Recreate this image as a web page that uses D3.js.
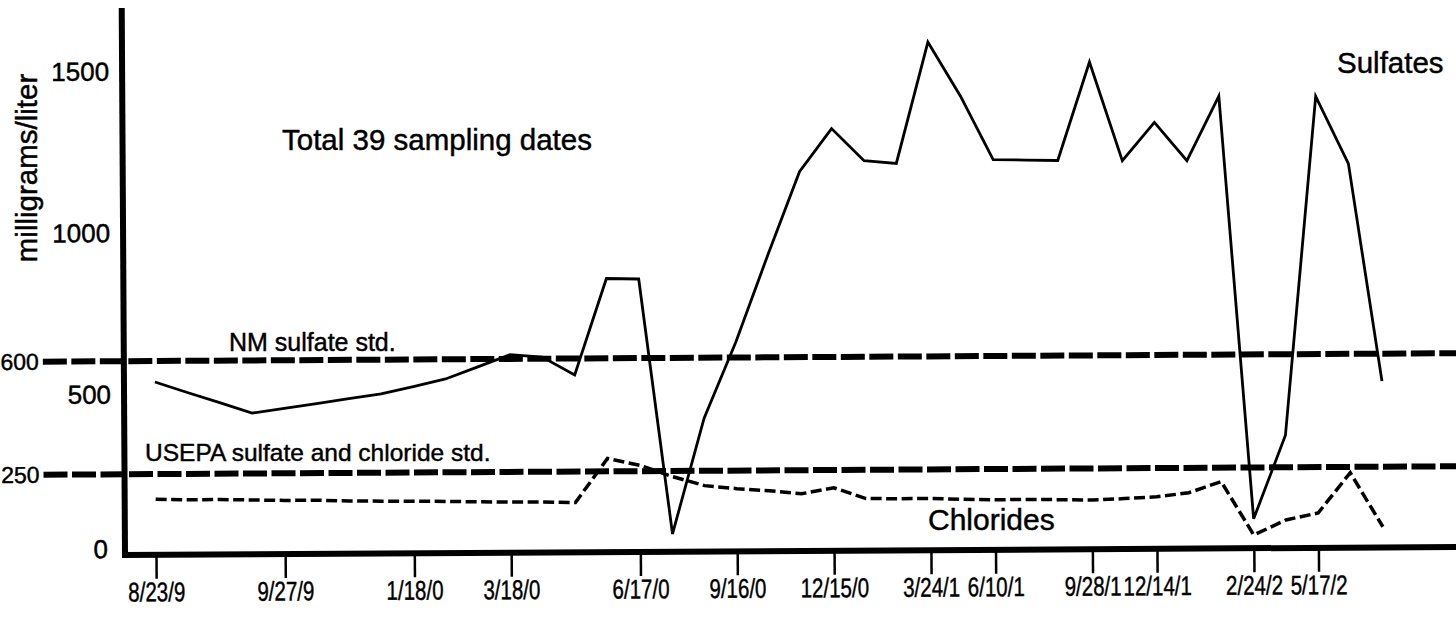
<!DOCTYPE html>
<html>
<head>
<meta charset="utf-8">
<script src="https://cdn.jsdelivr.net/npm/d3@7"></script>
<style>
  html, body { margin: 0; padding: 0; background: #fff; }
  svg { display: block; }
  text { font-family: "Liberation Sans", Arial, Helvetica, sans-serif; fill: #000; stroke: #000; stroke-width: 0.45px; }
</style>
</head>
<body>
<svg id="chart" width="1456" height="621"></svg>
<script>
// ---- data (39 sampling dates, index 0..38) ----
const sampleIndex = d3.range(39);
const sulfates = [535, 502, 470, 437, 451, 465, 480, 494, 516, 539,
                  576, 613, 605, 549, 847, 845, 55, 413, 649, 916,
                  1174, 1307, 1207, 1198, 1573, 1405, 1208, 1206, 1204, 1508,
                  1202, 1320, 1201, 1400, 91, 349, 1398, 1189, 515];
const chlorides = [172, 170, 170, 168, 166, 166, 163, 162, 161, 160,
                   158, 157, 156, 154, 290, 268, 233, 204, 194, 187,
                   177, 195, 161, 160, 160, 157, 155, 155, 154, 152,
                   156, 161, 173, 207, 41, 87, 108, 232, 64];
const tickIndex = [0, 4, 8, 11, 15, 18, 21, 24, 26, 29, 31, 34, 36];
const tickLabels = ["8/23/9", "9/27/9", "1/18/0", "3/18/0", "6/17/0", "9/16/0",
                    "12/15/0", "3/24/1", "6/10/1", "9/28/1", "12/14/1", "2/24/2", "5/17/2"];
const yTicksInner = [1500, 1000, 500, 0];
const stdValues = [600, 250];
const stdNames = ["NM sulfate std.", "USEPA sulfate and chloride std."];
const yTitle = "milligrams/liter";
const note = "Total 39 sampling dates";
const seriesNames = ["Sulfates", "Chlorides"];

// ---- layout ----
const svg = d3.select("#chart");
const axisX = 125, axisY = 555;
const x = d3.scaleLinear().domain([0, 38]).range([156, 1383]);
const y = d3.scaleLinear().domain([0, 1700]).range([axisY, axisY - 0.323 * 1700]);

// whole scanned plot is slightly tilted
const g = svg.append("g").attr("transform", `rotate(-0.344, ${axisX}, ${axisY})`);

// standard lines
g.selectAll("line.std").data(stdValues).join("line")
  .attr("class", "std")
  .attr("x1", 44).attr("x2", 1480)
  .attr("y1", d => y(d)).attr("y2", d => y(d))
  .attr("stroke", "#000").attr("stroke-width", 6)
  .attr("stroke-dasharray", "24 4.5");

// axes lines
g.append("line").attr("x1", axisX).attr("x2", axisX).attr("y1", 8).attr("y2", axisY + 3)
  .attr("stroke", "#000").attr("stroke-width", 6);
g.append("line").attr("x1", axisX - 3).attr("x2", 1480).attr("y1", axisY).attr("y2", axisY)
  .attr("stroke", "#000").attr("stroke-width", 6);

// x ticks via d3 axis
const xAxis = d3.axisBottom(x)
  .tickValues(tickIndex)
  .tickFormat((d, i) => tickLabels[i])
  .tickSize(24)
  .tickPadding(3);
const xa = g.append("g").attr("transform", `translate(0, ${axisY})`).call(xAxis);
xa.select(".domain").remove();
xa.selectAll(".tick line").attr("stroke", "#000").attr("stroke-width", 2.5);
xa.selectAll(".tick text")
  .attr("x", 0)
  .attr("font-size", 27).attr("font-family", "Liberation Sans, Arial, sans-serif")
  .attr("fill", "#000").attr("dy", "0.72em")
  .attr("transform", "scale(0.76,1)");

// y tick labels (no tick marks)
g.selectAll("text.ytick").data(yTicksInner).join("text")
  .attr("class", "ytick")
  .attr("x", d => d === 0 ? 108 : 112)
  .attr("y", d => d === 0 ? y(d) - 6 : y(d) + 1)
  .attr("text-anchor", "end")
  .attr("dominant-baseline", "central")
  .attr("font-size", 26)
  .text(d => d);
g.selectAll("text.ystd").data(stdValues).join("text")
  .attr("class", "ystd")
  .attr("x", 40)
  .attr("y", d => y(d))
  .attr("text-anchor", "end")
  .attr("dominant-baseline", "central")
  .attr("font-size", 23)
  .text(d => d);

// series lines
const line = d3.line().x((d, i) => x(sampleIndex[i])).y(d => y(d)).curve(d3.curveLinear);
g.append("path").datum(sulfates)
  .attr("d", line).attr("fill", "none")
  .attr("stroke", "#000").attr("stroke-width", 2.8).attr("stroke-linejoin", "miter");
g.append("path").datum(chlorides)
  .attr("d", line).attr("fill", "none")
  .attr("stroke", "#000").attr("stroke-width", 3.5)
  .attr("stroke-dasharray", "11 4.5");

// annotations (placed in page coordinates)
svg.append("text").attr("x", 26).attr("y", 168)
  .attr("transform", "rotate(-90, 26, 168)")
  .attr("text-anchor", "middle").attr("dominant-baseline", "central")
  .attr("font-size", 29.5).text(yTitle);
svg.append("text").attr("x", 282).attr("y", 150).attr("font-size", 29.5).text(note);
svg.append("text").attr("x", 229).attr("y", 351).attr("font-size", 25).text(stdNames[0]);
svg.append("text").attr("x", 145).attr("y", 461).attr("font-size", 24.5).text(stdNames[1]);
svg.append("text").attr("x", 1337).attr("y", 73).attr("font-size", 29.5).text(seriesNames[0]);
svg.append("text").attr("x", 928).attr("y", 530).attr("font-size", 30).text(seriesNames[1]);
</script>
</body>
</html>
